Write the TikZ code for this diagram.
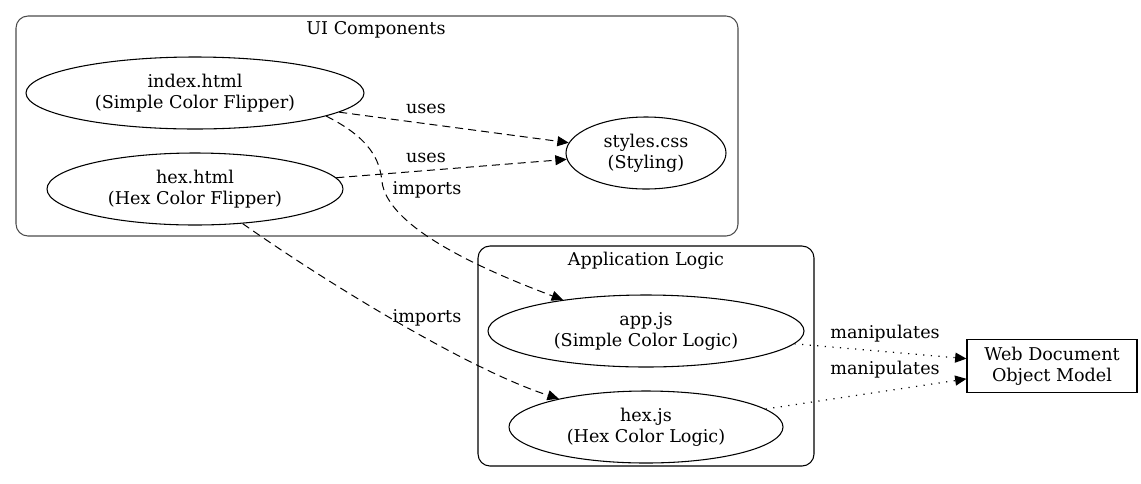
\documentclass[tikz,border=0pt]{standalone}
\usepackage{fontspec}
\setmainfont{DejaVu Serif}
\usetikzlibrary{arrows.meta,shapes.geometric}

\tikzset{
  file/.style={ellipse,draw,line width=0.8pt,align=center,inner sep=0pt},
  cluster/.style={draw,line width=0.8pt,rounded corners=9pt},
  dep/.style={line width=0.75pt,dash pattern=on 6pt off 3.75pt,
    -{Triangle[length=8.5pt,width=7.5pt]}},
  rel/.style={line width=0.9pt,dash pattern=on 0.9pt off 4.8pt,
    -{Triangle[length=8.5pt,width=7.5pt]}},
  lbl/.style={inner sep=1pt}
}

\begin{document}
\begin{tikzpicture}[x=0.75pt,y=-0.75pt,font=\fontsize{13.2}{15.75}\selectfont]
  \useasboundingbox (0,0) rectangle (1141,483);

  % clusters
  \draw[cluster,draw=black!70] (16,16) rectangle (738,236);
  \node (uititle) at (376,30) {UI Components};
  \draw[cluster] (478,246) rectangle (814,466);
  \node (logictitle) at (646,261) {Application Logic};

  % files
  \node[file,minimum width=253.5pt,minimum height=54pt] (index) at (195,93)
    {index.html\\(Simple Color Flipper)};
  \node[file,minimum width=222pt,minimum height=54pt] (hex) at (195,189)
    {hex.html\\(Hex Color Flipper)};
  \node[file,minimum width=120pt,minimum height=54pt] (styles) at (646,153)
    {styles.css\\(Styling)};
  \node[file,minimum width=237pt,minimum height=54pt] (app) at (646,331)
    {app.js\\(Simple Color Logic)};
  \node[file,minimum width=205.5pt,minimum height=54pt] (hexjs) at (646,427)
    {hex.js\\(Hex Color Logic)};
  \node[draw,line width=0.8pt,align=center,minimum width=127.5pt,
        minimum height=39.75pt,inner sep=0pt] (dom) at (1052,366)
    {Web Document\\Object Model};

  % edges
  \draw[dep] (index) -- (styles);
  \node[lbl] (uses1) at (426,109) {uses};
  \draw[dep] (hex) -- (styles);
  \node[lbl] (uses2) at (426,158) {uses};

  \draw[dep] (index.-10) .. controls (370,138) and (380,160) .. (382,182)
    .. controls (388,225) and (470,265) .. (app);
  \node[lbl] (imp1) at (427,190) {imports};
  \draw[dep] (hex.-36) .. controls (330,285) and (470,370) .. (hexjs);
  \node[lbl] (imp2) at (427,318) {imports};

  \draw[rel] (app) -- (dom);
  \node[lbl] (man1) at (885,334) {manipulates};
  \draw[rel] (hexjs) -- (dom);
  \node[lbl] (man2) at (885,370) {manipulates};
\end{tikzpicture}
\end{document}
